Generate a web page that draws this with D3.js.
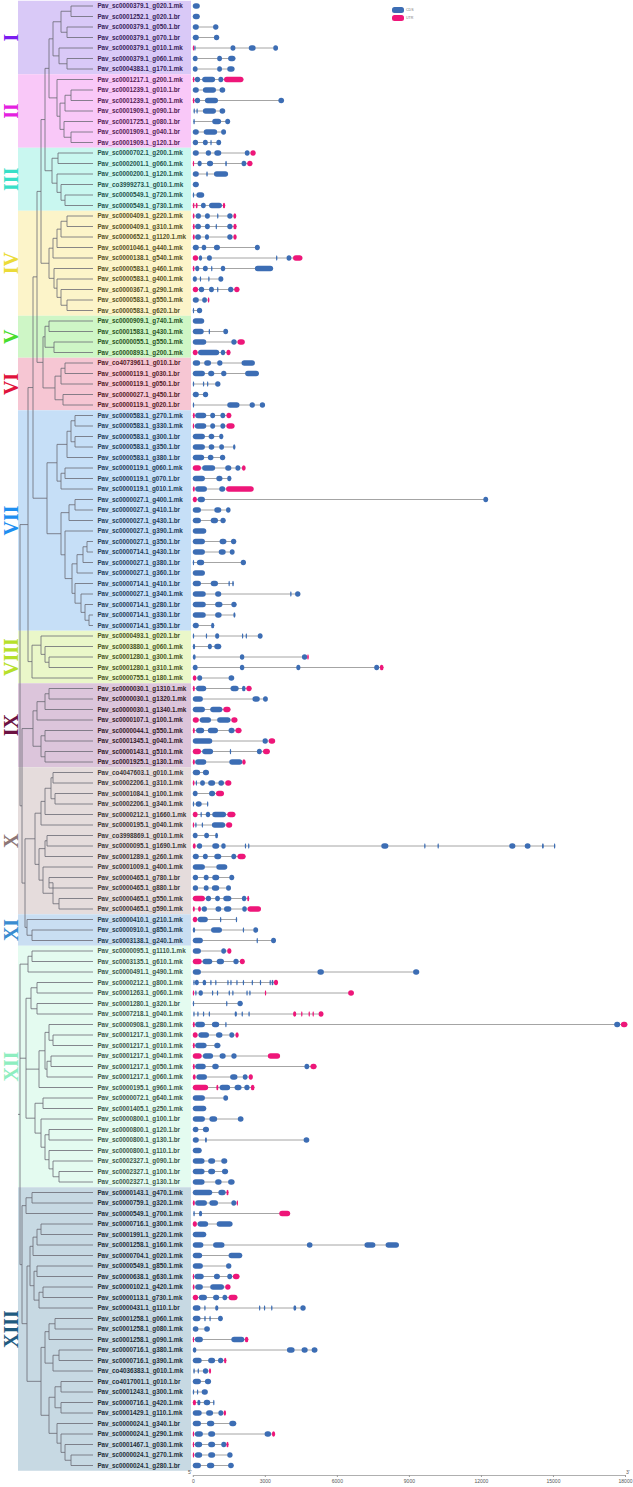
<!DOCTYPE html>
<html><head><meta charset="utf-8">
<script src="https://cdn.jsdelivr.net/npm/d3@7"></script>
<style>body{margin:0;background:#fff}svg{display:block}</style>
</head><body><svg id="c" width="633" height="1487"></svg>
<script>
const cladeNames = ["I","II","III","IV","V","VI","VII","VIII","IX","X","XI","XII","XIII"];
const cladeSizes = [7,7,6,10,4,5,21,5,8,14,3,23,27];
const cladeFill = ["#d9c9f7","#f9c8f8","#c9f7f0","#fcf4c9","#cef6c6","#f6c6d3","#c6dff7","#eaf7c9","#dcc5db","#e5dcdc","#c9def2","#e4fbf0","#c7d9e3"];
const cladeInk = ["#7a1cf0","#e41fe0","#38e0c8","#ebdb38","#48dd2e","#e0123c","#1e8ff0","#b6e02a","#6c1242","#8c7676","#3a8cd0","#8eeec0","#1f5b80"];
const geneNames = [
"Pav_sc0000379.1_g020.1.mk","Pav_sc0001252.1_g020.1.br","Pav_sc0000379.1_g050.1.br","Pav_sc0000379.1_g070.1.br","Pav_sc0000379.1_g010.1.mk","Pav_sc0000379.1_g060.1.mk","Pav_sc0004383.1_g170.1.mk",
"Pav_sc0001217.1_g200.1.mk","Pav_sc0001239.1_g010.1.br","Pav_sc0001239.1_g050.1.mk","Pav_sc0001909.1_g090.1.br","Pav_sc0001725.1_g080.1.br","Pav_sc0001909.1_g040.1.br","Pav_sc0001909.1_g120.1.br",
"Pav_sc0000702.1_g200.1.mk","Pav_sc0002001.1_g060.1.mk","Pav_sc0000200.1_g120.1.mk","Pav_co3999273.1_g010.1.mk","Pav_sc0000549.1_g720.1.mk","Pav_sc0000549.1_g730.1.mk",
"Pav_sc0000409.1_g220.1.mk","Pav_sc0000409.1_g310.1.mk","Pav_sc0000652.1_g1120.1.mk","Pav_sc0001046.1_g440.1.mk","Pav_sc0000138.1_g540.1.mk","Pav_sc0000583.1_g460.1.mk","Pav_sc0000583.1_g400.1.mk","Pav_sc0000367.1_g290.1.mk","Pav_sc0000583.1_g550.1.mk","Pav_sc0000583.1_g620.1.br",
"Pav_sc0000909.1_g740.1.mk","Pav_sc0001583.1_g430.1.mk","Pav_sc0000055.1_g550.1.mk","Pav_sc0000893.1_g200.1.mk",
"Pav_co4073961.1_g010.1.br","Pav_sc0000119.1_g030.1.br","Pav_sc0000119.1_g050.1.br","Pav_sc0000027.1_g450.1.br","Pav_sc0000119.1_g020.1.br",
"Pav_sc0000583.1_g270.1.mk","Pav_sc0000583.1_g330.1.mk","Pav_sc0000583.1_g300.1.br","Pav_sc0000583.1_g350.1.br","Pav_sc0000583.1_g380.1.br","Pav_sc0000119.1_g060.1.mk","Pav_sc0000119.1_g070.1.br","Pav_sc0000119.1_g010.1.mk","Pav_sc0000027.1_g400.1.mk","Pav_sc0000027.1_g410.1.br","Pav_sc0000027.1_g430.1.br","Pav_sc0000027.1_g390.1.mk","Pav_sc0000027.1_g350.1.br","Pav_sc0000714.1_g430.1.br","Pav_sc0000027.1_g380.1.br","Pav_sc0000027.1_g360.1.br","Pav_sc0000714.1_g410.1.br","Pav_sc0000027.1_g340.1.mk","Pav_sc0000714.1_g280.1.br","Pav_sc0000714.1_g330.1.br","Pav_sc0000714.1_g350.1.br",
"Pav_sc0000493.1_g020.1.br","Pav_sc0003880.1_g060.1.mk","Pav_sc0001280.1_g300.1.mk","Pav_sc0001280.1_g310.1.mk","Pav_sc0000755.1_g180.1.mk",
"Pav_sc0000030.1_g1310.1.mk","Pav_sc0000030.1_g1320.1.mk","Pav_sc0000030.1_g1340.1.mk","Pav_sc0000107.1_g100.1.mk","Pav_sc0000044.1_g550.1.mk","Pav_sc0001345.1_g040.1.mk","Pav_sc0000143.1_g510.1.mk","Pav_sc0001925.1_g130.1.mk",
"Pav_co4047603.1_g010.1.mk","Pav_sc0002206.1_g310.1.mk","Pav_sc0001084.1_g100.1.mk","Pav_sc0002206.1_g340.1.mk","Pav_sc0000212.1_g1660.1.mk","Pav_sc0000195.1_g040.1.mk","Pav_co3998869.1_g010.1.mk","Pav_sc0000095.1_g1690.1.mk","Pav_sc0001289.1_g260.1.mk","Pav_sc0001009.1_g400.1.mk","Pav_sc0000465.1_g780.1.br","Pav_sc0000465.1_g880.1.br","Pav_sc0000465.1_g550.1.mk","Pav_sc0000465.1_g590.1.mk",
"Pav_sc0000410.1_g210.1.mk","Pav_sc0000910.1_g850.1.mk","Pav_sc0003138.1_g240.1.mk",
"Pav_sc0000095.1_g1110.1.mk","Pav_sc0003135.1_g610.1.mk","Pav_sc0000491.1_g490.1.mk","Pav_sc0000212.1_g800.1.mk","Pav_sc0001263.1_g060.1.mk","Pav_sc0001280.1_g320.1.br","Pav_sc0007218.1_g040.1.mk","Pav_sc0000908.1_g280.1.mk","Pav_sc0001217.1_g030.1.mk","Pav_sc0001217.1_g010.1.mk","Pav_sc0001217.1_g040.1.mk","Pav_sc0001217.1_g050.1.mk","Pav_sc0001217.1_g060.1.mk","Pav_sc0000195.1_g960.1.mk","Pav_sc0000072.1_g640.1.mk","Pav_sc0001405.1_g250.1.mk","Pav_sc0000800.1_g100.1.br","Pav_sc0000800.1_g120.1.br","Pav_sc0000800.1_g130.1.br","Pav_sc0000800.1_g110.1.br","Pav_sc0002327.1_g090.1.br","Pav_sc0002327.1_g100.1.br","Pav_sc0002327.1_g130.1.br",
"Pav_sc0000143.1_g470.1.mk","Pav_sc0000759.1_g320.1.mk","Pav_sc0000549.1_g700.1.mk","Pav_sc0000716.1_g300.1.mk","Pav_sc0001991.1_g220.1.mk","Pav_sc0001258.1_g160.1.mk","Pav_sc0000704.1_g020.1.mk","Pav_sc0000549.1_g850.1.mk","Pav_sc0000638.1_g630.1.mk","Pav_sc0000102.1_g420.1.mk","Pav_sc0000113.1_g730.1.mk","Pav_sc0000431.1_g110.1.br","Pav_sc0001258.1_g060.1.mk","Pav_sc0001258.1_g080.1.mk","Pav_sc0001258.1_g090.1.mk","Pav_sc0000716.1_g380.1.mk","Pav_sc0000716.1_g390.1.mk","Pav_co4036383.1_g010.1.mk","Pav_co4017001.1_g010.1.br","Pav_sc0001243.1_g300.1.mk","Pav_sc0000716.1_g420.1.mk","Pav_sc0001429.1_g110.1.mk","Pav_sc0000024.1_g340.1.br","Pav_sc0000024.1_g290.1.mk","Pav_sc0001467.1_g030.1.mk","Pav_sc0000024.1_g270.1.mk","Pav_sc0000024.1_g280.1.br"];
// gene structure: U = UTR, C = CDS, start-end in bp
const geneParts = [
"C0-290","C0-290","C0-250 C845-1065","C0-250 C880-1100","U0-60 C60-110 C1570-1775 C2330-2620 C3350-3550","C0-200 C1015-1215 C1470-1775","C0-200 C1015-1215 C1435-1740",
"U0-70 C85-305 C390-930 C1065-1270 U1300-2110","C0-250 C420-965 C1115-1350","U0-70 C85-305 C505-1050 C3565-3800","C30-60 C150-185 C420-965 C1115-1350","C20-85 C810-1180 C1350-1555","C0-250 C455-1015 C1180-1385","C0-220 C420-625 C730-780 C980-1180",
"C0-250 C540-760 C895-1185 C2165-2365 U2400-2620","U0-50 C200-370 C590-845 C1350-1420 C2030-2230 U2265-2485","C0-250 C560-625 C880-1470","C0-250","C0-50 C150-475","U0-70 U120-200 C340-540 C675-1215 U1250-1350",
"U0-70 C120-340 C505-710 C1010-1050 C1435-1655 U1690-1810","U0-80 C100-340 C505-710 C950-990 C1435-1655 U1690-1825","U0-80 C100-340 C505-675 C1435-1655 U1690-1825","C0-250 C370-560 C880-1130 C2585-2790","U0-220 C250-390 C590-795 C3465-3500 C3905-4105 U4175-4565","U0-70 C100-270 C420-625 C760-790 C1165-1350 C2585-3345","C0-170 C290-320 C640-680 C1065-1270","U0-220 C250-475 C675-880 C1010-1040 C1470-1690 U1725-1945","C0-250 C390-590 U625-690","C0-50 C170-390",
"C0-475","C0-455 C660-710 C1270-1470","C0-560 C1605-1825 U1860-2165","U0-200 C220-1100 C1165-1350 U1400-1570",
"C0-305 C475-760 C1015-1235 C2030-2585","C0-505 C640-895 C1180-1400 C2180-2755","C0-35 C420-475 C590-625 C930-1150","C0-250 C420-640","C0-35 C1435-1945 C2365-2585 C2790-3010",
"U0-85 C100-560 C725-930 C1150-1350 U1400-1605","U0-50 C85-560 C725-930 C1150-1350 U1400-1740","C0-505 C660-895 C1100-1270","C0-505 C660-895 C1100-1300 C1675-1775","C0-475 C625-860 C1130-1350","U0-340 C390-930 C1350-1605 C1775-1980 U2045-2200","C0-505 C980-1235 C1435-1605","U0-85 C100-590 C1100-1350 U1385-2535","U0-170 C200-505 C12100-12300","C0-340 C895-1185 C1385-1570","C0-340 C745-1050 C1150-1370","C0-560","C0-505 C1115-1400 C1590-1810","C0-505 C1080-1370 C1540-1740","C0-50 C170-475 C1995-2215","C0-505","C0-340 C745-1050 C1485-1535 C1640-1710","C0-540 C930-1185 C4055-4090 C4260-4480","C0-540 C930-1235 C1605-1825","C0-540 C930-1200 C1690-1775","C0-250 C760-895",
"C0-35 C540-590 C930-1100 C2045-2095 C2200-2250 C2705-2905","C0-100 C625-795 C895-1185","C0-120 C1960-2145 C4545-4765 U4765-4830","C0-200 C1960-2145 C4310-4480 C7555-7760 U7790-7945","U0-150 C185-390 C1490-1725",
"U0-85 C135-560 C1570-1910 C2045-2200 U2230-2450","C0-420 C2485-2790 C2925-3125","C0-505 C725-1235 U1270-1570","U0-250 C290-760 C1015-1570 U1605-1860","U0-85 C135-475 C625-1050 C1490-1740 U1775-2030","C0-810 C2905-3125 U3160-3430","U0-340 C390-845 C1540-1590 C2670-2875 U2925-3210","U0-85 C100-560 C1520-2060 U2060-2200",
"C0-305 C420-675","U0-70 C120-170 C305-505 C640-930 C1065-1300 U1350-1605","C0-200 C675-930 U965-1300","C0-35 C120-370 C590-625","U0-200 C320-370 C540-725 C810-1385 U1435-1775","U0-50 C100-150 C370-420 C795-1350 U1385-1640","C0-200 C475-675 C930-1050","U0-120 C170-390 C810-1100 C1185-1370 C2165-2200 C2300-2350 C7850-8145 C9635-9685 C10190-10240 C13180-13435 C13825-14065 C14540-14620 C15040-15090","C0-250 C420-625 C895-1185 C1605-1810 U1860-2200","C0-505 C980-1435","C0-220 C455-660 C810-1100 C1520-1725","C0-220 C455-660 C795-1100 C1385-1590","U0-505 C540-760 C930-1130 C1270-1605 C2045-2230 U2265-2350","U0-85 U220-340 C370-590 C945-1185 C1300-1605 C2060-2250 U2280-2840",
"U0-185 C200-625 C1130-1185 C1790-1840","C0-100 C760-1215 C2080-2130 C2520-2720","C0-420 C2655-2705 C3260-3465",
"C0-340 C1185-1385 U1435-1605","U0-370 C405-810 C995-1300 C1690-1910 U1960-2165","C0-340 C5190-5460 C9175-9430","C20-50 C85-250 C405-560 C725-760 C930-960 C1435-1470 C1560-1600 C1810-1850 C2080-2120 C2450-2490 C2790-2830 C3195-3240 C3280-3360 U3380-3550","U0-50 C100-150 C240-420 C795-845 C1000-1050 C1490-1540 C1640-1690 C2230-2280 C2350-2400 U3000-3050 U6470-6710","C0-50 C1385-1435 C1860-2080","C20-50 C185-240 C420-455 C660-710 C1740-1840 C2030-2080 C2315-2365 U4175-4310 U4510-4560 U4820-4870 U4985-5035 U5240-5440","U0-85 C100-505 C795-1100 C1350-1385 C17550-17800 U17830-18100","U0-200 C235-675 C965-1235 C1520-1725 U1775-1910","U0-85 C100-575 C895-1150","U0-370 C420-845 C1115-1370 C1605-1825 U3125-3635","U0-85 C100-540 C810-1080 C4650-4850 U4900-5155","U0-120 C150-590 C1555-1860 C2080-2280 U2330-2500","U0-640 U980-1065 C1115-1555 C1740-2030 C2145-2365 U2415-2570","C0-505 C1270-1470","C0-560","C0-505 C690-1015 C1875-2110","C0-235 C420-675","C0-250 C505-590 C4615-4850","C0-370","C0-490 C640-930 C1185-1435","C0-490 C640-930 C1215-1470","C0-490 C930-1200 C1470-1740",
"C0-810 C1065-1370 U1400-1490","U0-85 C100-590 C690-1050 C1605-1810 U1825-1875","C20-85 C255-390 U3600-4055","U0-170 C200-640 C995-1655","C0-560","C0-440 C845-1320 C4750-4985 C7150-7605 C8030-8585","C0-390 C1490-2060","C0-420 C1385-1605","U0-50 C70-455 C880-1130 C1435-1640 U1670-1945","U0-70 C100-420 C725-1300 U1350-1570","U0-220 C250-590 C845-1100 C1235-1435 U1490-1860","C0-320 C475-525 C930-1065 C2755-2805 C2960-3010 C3260-3310 C4190-4310 C4480-4700","C0-320 C475-540 C690-745 C1050-1250","C0-235 C475-710","U0-50 C85-420 C1605-2145 U2165-2315","C0-150 C3920-4240 C4530-4785 C4950-5190","C0-370 C640-930 C1050-1270 U1300-1400","C20-85 C200-250 C420-640 U675-760","C0-340 C505-760","C0-50 C170-220 C370-625","U0-135 C185-320 C455-725 C845-880","C0-370 C555-845 C1065-1270 U1285-1385","C0-340 C590-895 C1520-1810","U0-50 C85-420 C640-930 C2990-3260 U3295-3430","U0-50 C85-390 C640-930 C1185-1400 U1400-1490","U0-50 C85-390 C640-930 C1435-1655","C0-340 C590-895 C1470-1705"];
// tree: leaves are gene indices, ":n" after a group = node depth
const cladeTrees = [
"(((0,1):71,(2,3):67):61,(4,(5,6):67):59):53",
"(7,(((8,9):71,10):65,(11,(12,13):71):64):60):57",
"((14,15):58,(16,(17,(18,19):65):61):57):52",
"(((((20,21):67,22):61,23):57,24):53,(25,(26,(27,(28,29):67):61):57):54):49",
"((30,31):49,(32,33):54):45",
"(((34,35):65,36):61,(37,38):63):55",
"(((((39,40):75,(41,42):75):71,43):67,((44,45):65,46):61):57,(((47,48):75,49):69,(50,((((51,52):87,53):83,54):77,(55,(56,(57,(58,59):89):85):81):75):72):65):61):47",
"((60,(61,(62,63):49):45):41,64):32",
"((((65,66):49,67):45,68):37,((69,70):45,(71,72):45):41):33",
"(((((73,74):53,(75,76):55):51,77):45,78):41,(((79,80):47,81):45,(82,((83,84):49,(85,86):59):53):43):39):35",
"(87,(88,89):32):27",
"(((90,91):32,92):28,((((93,94):37,(95,96):37):31,((((97,(98,99):53):49,((100,101):51,102):47):45,103):39):29,((104,105):43,(106,((107,108):49,(109,(110,(111,112):59):53):49):45):41):35):26):24",
"(((113,114):32,115):26,(((((116,117):41,118):37,119):33,((120,121):37,((122,123):43,124):39):34):30,((((125,126):55,127):49,((128,129):59,130):53):45,(((131,132):61,(133,134):61):55,(135,(136,(137,(138,139):71):65):61):57):49):41):27):22"];
const backbone = "((((((((#0,#1):49,#2):45,#3):41,(#4,#5):43):37,#6):33,#7):28,(#8,(#9,#10):25):22):20,(#11,#12):20):18";
const axisTicks = [0,3000,6000,9000,12000,15000,18000];
const legendItems = ["CDS","UTR"];
const partColor = {C:"#3c6db4", U:"#ee1679"};

const svg = d3.select("#c");
const n = geneNames.length;
const y = d3.scalePoint().domain(d3.range(n)).range([6, 1465.5]);
const step = y.step();
const bp = d3.scaleLinear().domain([0,18000]).range([192.8, 625]);
const depthX = d3.scaleLinear().domain([18,93]).range([18,93]);

const cladeOf = [];
let acc = 0;
const cladeRanges = cladeSizes.map((s,i)=>{ const r=[acc, acc+s-1]; for(let k=0;k<s;k++) cladeOf.push(i); acc+=s; return r;});

// backgrounds
svg.append("g").selectAll("rect").data(cladeRanges).join("rect")
  .attr("x",18).attr("width",173)
  .attr("y",d=>y(d[0])-step/2).attr("height",d=>y(d[1])-y(d[0])+step)
  .attr("fill",(d,i)=>cladeFill[i]);

// clade labels
svg.append("g").selectAll("text").data(cladeRanges).join("text")
  .attr("transform",d=>`translate(18,${(y(d[0])+y(d[1]))/2}) rotate(-90)`)
  .attr("text-anchor","middle")
  .attr("font-family","'Liberation Serif','Times New Roman',serif")
  .attr("font-weight","bold").attr("font-size",20)
  .attr("fill",(d,i)=>cladeInk[i])
  .text((d,i)=>cladeNames[i]);

// tree
function parseTree(s){
  let i=0;
  function num(){ const j=i; while(i<s.length && /[0-9.]/.test(s[i])) i++; return +s.slice(j,i); }
  function node(){
    if(s[i]==='('){
      i++; const children=[node()];
      while(s[i]===','){ i++; children.push(node()); }
      i++;
      let depth=null;
      if(s[i]===':'){ i++; depth=num(); }
      return {children, depth};
    }
    return {leaf:num()};
  }
  return node();
}
const treeStr = backbone.replace(/#(\d+)/g,(m,k)=>cladeTrees[+k]);
const root = d3.hierarchy(parseTree(treeStr), d=>d.children);
root.eachAfter(nd=>{
  if(!nd.children){ nd.px = depthX(93); nd.py = y(nd.data.leaf); }
  else { nd.px = depthX(nd.data.depth); nd.py = (nd.children[0].py + nd.children[nd.children.length-1].py)/2; }
});
const tg = svg.append("g").attr("fill","none").attr("stroke","#6a6a74").attr("stroke-width",0.8);
root.each(nd=>{
  if(!nd.children) return;
  const c0 = nd.children[0], c1 = nd.children[nd.children.length-1];
  tg.append("path").attr("d",`M${nd.px},${c0.py}V${c1.py}`);
  nd.children.forEach(c=>tg.append("path").attr("d",`M${nd.px},${c.py}H${c.px}`));
});

// gene labels
svg.append("g").selectAll("text").data(geneNames).join("text")
  .attr("x",97.4).attr("y",(d,i)=>y(i)).attr("dy","0.35em")
  .attr("font-family","'Liberation Sans',Arial,sans-serif").attr("font-weight","bold").attr("font-size",6.3)
  .attr("fill",(d,i)=>d3.interpolateRgb(cladeInk[cladeOf[i]],"#1c1c1c")(0.72))
  .text(d=>d);

// gene structures
const parts = geneParts.map(s=>s.split(" ").map(t=>{ const [a,b]=t.slice(1).split("-").map(Number); return {type:t[0], s:a, e:b}; }));
const gg = svg.append("g");
parts.forEach((p,i)=>{
  const g = gg.append("g");
  const lo = d3.min(p,d=>d.s), hi = d3.max(p,d=>d.e);
  g.append("line").attr("x1",bp(lo)).attr("x2",bp(hi)).attr("y1",y(i)).attr("y2",y(i))
    .attr("stroke","#9a9a9a").attr("stroke-width",0.9);
  const h = 5.6;
  g.selectAll("rect").data(p).join("rect")
    .attr("x",d=>bp(d.s)).attr("width",d=>Math.max(1.4,bp(d.e)-bp(d.s)))
    .attr("y",y(i)-h/2).attr("height",h).attr("rx",2.8).attr("ry",2.8)
    .attr("fill",d=>partColor[d.type]);
});

// axis
const axY = 1475;
const ax = svg.append("g").attr("transform",`translate(0,${axY})`)
  .call(d3.axisBottom(bp).tickValues(axisTicks).tickSize(2).tickSizeOuter(0).tickFormat(d3.format("d")));
ax.select(".domain").attr("stroke","#9a9a9a").attr("stroke-width",0.8);
ax.selectAll(".tick line").attr("stroke","#9a9a9a");
ax.selectAll(".tick text").attr("font-size",5).attr("fill","#555").attr("font-family","'Liberation Sans',Arial,sans-serif").attr("dy","0.5em");
svg.append("text").attr("x",bp(0)-1).attr("y",axY-1.5).attr("text-anchor","end").attr("font-size",5).attr("fill","#555").attr("font-family","'Liberation Sans',Arial,sans-serif").text("5'");
svg.append("text").attr("x",bp(18000)+1).attr("y",axY-1.5).attr("font-size",5).attr("fill","#555").attr("font-family","'Liberation Sans',Arial,sans-serif").text("3'");

// legend
const lg = svg.append("g").attr("transform","translate(392,7)");
legendItems.forEach((t,i)=>{
  lg.append("rect").attr("x",0).attr("y",i*8).attr("width",12).attr("height",6).attr("rx",2.5)
    .attr("fill",i===0?partColor.C:partColor.U);
  lg.append("text").attr("x",14).attr("y",i*8+3).attr("dy","0.35em").attr("font-size",3.6)
    .attr("fill","#777").attr("font-family","'Liberation Sans',Arial,sans-serif").text(t);
});
</script></body></html>
